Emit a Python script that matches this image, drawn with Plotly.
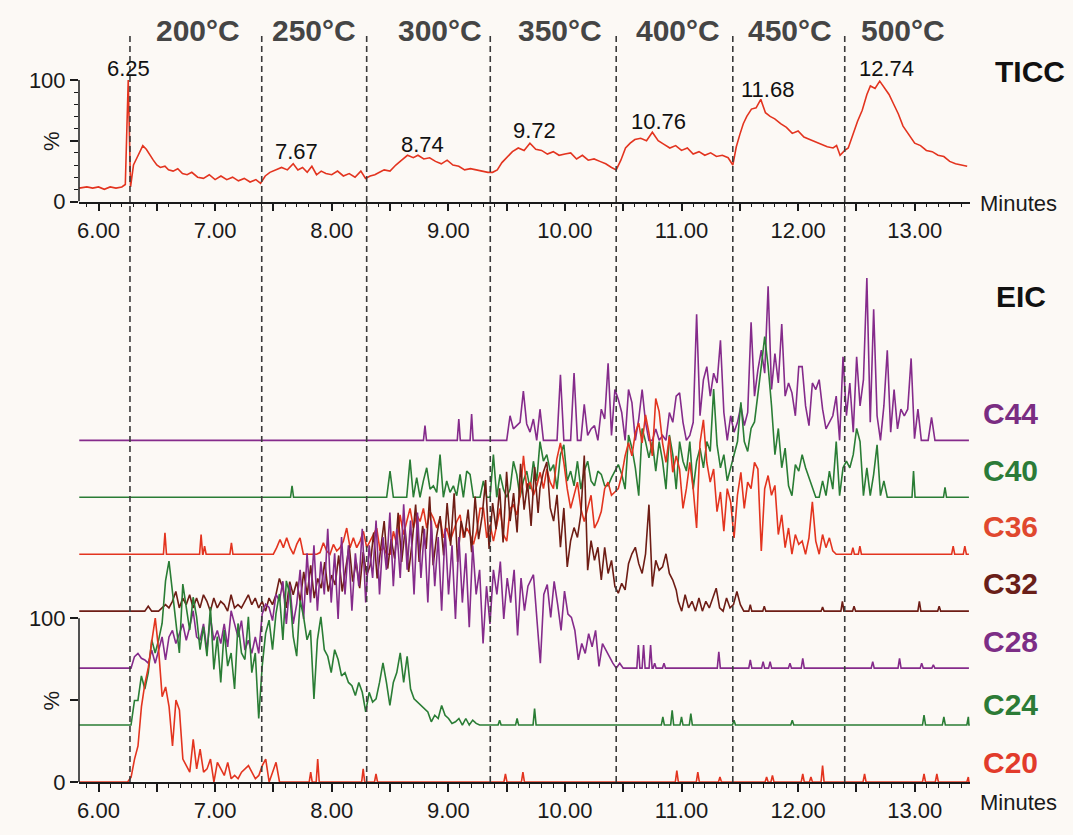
import plotly.graph_objects as go

# ---------------- data ----------------
X_RANGE = [5.8328, 13.4743]
T_START, T_END = 5.835, 13.465
SPIKE_HALF = 0.013

TEMP_LABELS = ["200°C", "250°C", "300°C", "350°C", "400°C", "450°C", "500°C"]
TEMP_LABEL_T = [6.853, 7.85, 8.93, 9.96, 10.97, 11.93, 12.90]
STEP_BOUNDARIES = [6.27, 7.40, 8.30, 9.36, 10.44, 11.44, 12.40]

TICC_T = [5.835, 5.90, 5.95, 6.00, 6.05, 6.10, 6.15, 6.20, 6.23, 6.255,
          6.275, 6.30, 6.33, 6.36, 6.38, 6.41, 6.44, 6.47, 6.50, 6.53,
          6.57, 6.60, 6.64, 6.68, 6.72, 6.76, 6.80, 6.85, 6.90, 6.95,
          7.00, 7.05, 7.10, 7.15, 7.20, 7.25, 7.30, 7.35, 7.39, 7.43,
          7.47, 7.52, 7.57, 7.62, 7.67, 7.71, 7.75, 7.79, 7.83, 7.87,
          7.91, 7.95, 8.00, 8.05, 8.10, 8.15, 8.20, 8.25, 8.29, 8.33,
          8.37, 8.41, 8.45, 8.50, 8.55, 8.60, 8.65, 8.70, 8.74, 8.79,
          8.84, 8.89, 8.94, 8.99, 9.04, 9.09, 9.14, 9.19, 9.24, 9.29,
          9.34, 9.38, 9.42, 9.46, 9.50, 9.55, 9.60, 9.65, 9.70, 9.75,
          9.80, 9.85, 9.90, 9.95, 10.00, 10.05, 10.10, 10.15, 10.20, 10.25,
          10.30, 10.35, 10.40, 10.44, 10.48, 10.52, 10.56, 10.60, 10.65, 10.70,
          10.75, 10.80, 10.85, 10.90, 10.95, 11.00, 11.05, 11.10, 11.15, 11.20,
          11.25, 11.30, 11.35, 11.40, 11.44, 11.47, 11.50, 11.53, 11.56, 11.60,
          11.64, 11.68, 11.72, 11.76, 11.80, 11.85, 11.90, 11.95, 12.00, 12.05,
          12.10, 12.15, 12.20, 12.25, 12.30, 12.33, 12.36, 12.40, 12.43, 12.47,
          12.51, 12.55, 12.59, 12.62, 12.66, 12.70, 12.74, 12.78, 12.82, 12.86,
          12.90, 12.95, 13.00, 13.05, 13.10, 13.15, 13.20, 13.25, 13.30, 13.35,
          13.40, 13.45]
TICC_V = [11, 12, 11, 12, 10, 12, 11, 12, 14, 100,
          12, 30, 36, 42, 46, 43, 38, 34, 30, 28,
          29, 26, 25, 27, 23, 22, 24, 20, 19, 22,
          18, 21, 18, 20, 17, 19, 16, 18, 15, 21,
          24, 26, 28, 26, 31, 26, 28, 24, 29, 22,
          25, 23, 22, 25, 21, 23, 20, 25, 19, 21,
          22, 24, 26, 25, 30, 34, 38, 36, 38, 35,
          36, 33, 31, 34, 30, 29, 26, 27, 26, 25,
          24, 24, 26, 32, 36, 41, 44, 42, 48, 43,
          42, 39, 41, 38, 39, 40, 35, 38, 34, 35,
          33, 31, 28, 26, 34, 44, 48, 51, 52, 50,
          57, 50, 47, 44, 46, 42, 44, 39, 41, 38,
          40, 37, 38, 36, 30, 45, 55, 64, 70, 76,
          77, 84, 73, 70, 68, 64, 61, 56, 58, 53,
          51, 49, 47, 45, 44, 46, 38, 42, 44, 55,
          66, 75, 88, 95, 93, 99, 94, 88, 80, 72,
          62, 55, 48, 46, 42, 41, 38, 37, 33, 31,
          30, 29]
TICC_PEAK_LABELS = ["6.25", "7.67", "8.74", "9.72", "10.76", "11.68", "12.74"]

EIC_NAMES = ["C20", "C24", "C28", "C32", "C36", "C40", "C44"]
EIC_OFFSET_STEP = 34.75

# C20
C20_A_START, C20_A_STEP = 6.25, 0.0296
C20_A = [0, 3, 14, 22, 46, 60, 70, 86, 100, 80, 52, 58, 46, 22, 50, 44, 14, 10, 6, 26,
         8, 20, 6, 8, 14, 0, 12, 8, 4, 12, 2, 4, 2, 6, 8, 10, 6, 2, 4, 10,
         14, 0, 6, 12, 0, 0]
C20_SPIKE_T = [7.82, 7.88, 8.27, 8.38, 9.49, 9.64, 10.96, 11.14, 11.33, 11.73, 11.78,
               12.04, 12.11, 12.21, 12.57, 13.08, 13.19, 13.46]
C20_SPIKE_V = [6, 14, 8, 5, 5, 6, 7, 6, 3, 3, 4, 5, 3, 10, 5, 5, 5, 3]

# C24
C24_A_START, C24_A_STEP = 6.279, 0.0296
C24_A = [0, 15, 15, 30, 22, 32, 52, 44, 52, 62,
         88, 100, 80, 64, 44, 86, 72, 58, 78, 66,
         46, 60, 42, 72, 34, 54, 26, 58, 36, 44,
         22, 62, 44, 40, 66, 32, 44, 4, 36, 56,
         64, 46, 68, 80, 52, 88, 80, 54, 42, 76,
         66, 52, 58, 16, 52, 66, 46, 42, 32, 46,
         40, 30, 32, 26, 24, 18, 26, 20, 8, 20,
         14, 16, 26, 38, 26, 12, 26, 32, 44, 26,
         42, 22, 16, 14, 12, 10, 8, 2, 6, 4,
         12, 6, 4, 1, 2, 4, 0, 4, 0, 3,
         1, 0]
C24_SPIKE_T = [9.44, 9.59, 9.74, 10.84, 10.92, 11.00, 11.08, 11.45, 11.95, 13.08, 13.25, 13.46]
C24_SPIKE_V = [3, 4, 10, 5, 9, 5, 7, 3, 3, 6, 5, 5]

# C28
C28_A_START, C28_A_STEP = 6.279, 0.0296
C28_A = [0, 7, 9, 6, 5, 3, 11, 3, 11, 19,
         5, 19, 23, 15, 21, 27, 17, 25, 35, 19,
         17, 27, 11, 31, 17, 23, 15, 27, 13, 35,
         27, 19, 29, 11, 17, 9, 19, 9, 33, 39,
         37, 29, 45, 41, 53, 27, 51, 27, 39,
         60, 30, 70, 40, 75, 35, 65, 45, 85, 40,
         70, 30, 80, 45, 75, 35, 70, 50, 85, 40,
         75, 55, 90, 45, 80, 60, 95, 50, 85, 55,
         100, 60, 90, 45, 95, 55, 85, 40, 90, 50,
         80, 35, 85, 45, 75, 30, 80, 40, 70, 25,
         75, 45, 60, 15, 50, 27, 60, 45, 65, 30,
         55, 40, 60, 20, 55, 35, 50]
C28_B_START, C28_B_STEP = 9.7303, 0.0296
C28_B = [57, 27, 3, 45, 51, 31, 53, 39, 23, 47,
         33, 31, 23, 5, 15, 9, 21, 13, 23, 1,
         15, 11, 7, 3, 0, 3, 0]
C28_SPIKE_T = [10.63, 10.675, 10.735, 10.77, 10.85, 11.32, 11.59, 11.70, 11.76, 11.93,
               12.04, 12.64, 12.87, 13.06, 13.16]
C28_SPIKE_V = [14, 14, 14, 3, 3, 10, 5, 4, 4, 3, 6, 4, 6, 3, 2]

# C32
C32_A_START, C32_A_STEP = 6.397, 0.0296
C32_A = [0, 3, 0, 0, 0, 2, 4, 2, 6, 12, 2, 8, 4, 10, 2, 8, 2, 10, 6, 0,
         8, 2, 6, 4, 0, 10, 2, 4, 2, 6, 10, 4, 8, 2, 6, 0, 8, 4, 10, 20,
         14, 2, 18, 10]
C32_B_START, C32_B_STEP = 7.70, 0.03
C32_B = [18, 6, 24, 10, 28, 8, 20, 14, 30, 12, 22,
         16, 34, 12, 26, 40, 18, 30, 14, 36, 22,
         28, 48, 20, 38, 55, 26, 44, 32, 60, 30,
         50, 24, 42, 65, 30, 52, 38, 70, 28, 46,
         58, 34, 66, 40, 72, 30, 55, 45, 62, 36,
         70, 44, 58, 80, 38, 66, 50, 75, 42, 85,
         55, 72, 48, 90, 62, 78, 52, 88, 60]
C32_C_START, C32_C_STEP = 9.7865, 0.0292
C32_C = [75, 85, 91, 63, 55, 71, 39, 63, 27, 43,
         51, 45, 59, 95, 25, 43, 31, 39, 19, 39,
         23, 31, 15, 11, 17, 13, 29, 35, 39, 29,
         23, 35, 65, 15, 31, 25, 27, 35, 23, 19,
         13]
C32_D_START, C32_D_STEP = 10.972, 0.0296
C32_D = [6, 0, 10, 2, 6, 0, 8, 0, 6, 2, 8, 14, 2, 0, 8, 2, 4, 12, 4, 0]
C32_SPIKE_T = [11.59, 11.71, 12.21, 12.38, 12.48, 13.04, 13.21]
C32_SPIKE_V = [4, 3, 2.5, 6, 3, 6, 3]

# C36
C36_A_START, C36_A_STEP = 7.4996, 0.0286
C36_A = [0, 4, 9, 4, 10, 4, 0, 6, 10, 0,
         0, 0, 0, 0, 1, 7, 2, 0, 6, 2,
         4, 8, 16, 4, 10, 4, 8, 14, 4, 8,
         12, 16, 2, 4, 0, 0, 14, 6, 24, 12,
         20, 28, 16, 24, 20, 28, 16, 26, 22, 16,
         22, 10, 16, 8, 14, 20, 24, 10, 16, 12,
         6, 14, 28, 28, 10, 18, 8, 18, 28, 12,
         8, 28, 30, 24, 36, 60, 40, 44, 36, 42,
         50, 40, 52, 44, 40, 58]
C36_B_START, C36_B_STEP = 9.9615, 0.0292
C36_B = [68, 56, 40, 28, 36, 44, 28, 20, 28, 36,
         16, 20, 26, 40, 44, 36, 38, 40, 48, 60,
         68, 60, 74, 80, 68, 85, 74, 60, 95, 87,
         68, 56, 72, 50, 60, 52, 28, 40, 56, 40,
         16, 68, 82, 56, 44, 52, 26, 38, 14, 40,
         32, 10, 36, 50, 28, 44, 40, 56, 52, 2,
         40, 48, 36, 42, 12, 24, 4, 16, 0, 12,
         6, 8, 0, 10, 32, 8, 0, 12, 4, 10,
         2, 0]
C36_SPIKE_T = [6.57, 6.88, 6.91, 7.14, 12.47, 12.53, 13.33, 13.43]
C36_SPIKE_V = [13, 12, 5, 7, 4, 5, 5, 5]

# C40
C40_A_START, C40_A_STEP = 8.4716, 0.0286
C40_A = [0, 16, 0, 0, 0, 0, 0, 23, 0, 12,
         0, 10, 18, 5, 7, 3, 26, 0, 10, 3,
         7, 1, 14, 0, 16, 14, 0, 0, 0, 10,
         0, 0, 26, 0, 14, 5, 0, 5, 22, 14,
         0, 10, 16, 5, 22, 10]
C40_B_START, C40_B_STEP = 9.7865, 0.0292
C40_B = [34, 22, 26, 16, 20, 5, 26, 32, 10, 16,
         7, 22, 5, 16, 22, 10, 7, 16, 14, 7,
         7, 12, 16, 20, 14, 5, 38, 30, 18, 1,
         42, 34, 24, 34, 16, 34, 22, 5, 38, 26,
         5, 34, 22, 16, 34, 5, 22, 30, 18, 34,
         28, 66, 32, 18, 26, 10, 18, 26, 34, 58,
         34, 28, 42, 46, 62, 80, 98, 80, 56, 26,
         42, 18, 30, 7, 1, 20, 16, 26, 18, 12,
         7, 0, 0, 10, 1, 16, 5, 34, 1, 18,
         22, 18, 26, 42, 34, 1, 18, 1, 14, 32,
         1, 10, 0]
C40_SPIKE_T = [7.66, 12.99, 13.26]
C40_SPIKE_V = [7, 16, 6]

# C44
C44_A_START, C44_A_STEP = 9.5009, 0.0286
C44_A = [0, 15, 7, 9, 11, 30, 10, 5, 13, 0]
C44_B_START, C44_B_STEP = 9.7865, 0.0292
C44_B = [19, 0, 0, 0, 0, 0, 40, 0, 0, 0,
         41, 0, 0, 22, 3, 7, 9, 0, 19, 13,
         47, 3, 31, 25, 17, 0, 31, 23, 0, 13,
         31, 11, 0, 0, 7, 0, 3, 0, 17, 11,
         27, 29, 11, 0, 3, 11, 77, 15, 37, 45,
         27, 41, 35, 61, 17, 0, 15, 5, 11, 21,
         9, 17, 72, 27, 43, 55, 41, 94, 31, 53,
         35, 71, 27, 35, 29, 15, 45, 45, 21, 9,
         35, 31, 37, 19, 7, 11, 15, 27, 0, 51,
         15, 35, 5, 51, 21, 37, 99, 11, 80, 15,
         0, 21, 55, 5, 31, 7, 19, 15, 19, 50,
         1, 19, 0, 0, 0, 14, 0]
C44_SPIKE_T = [8.80, 9.09, 9.20]
C44_SPIKE_V = [9, 13, 16]

EIC_LABEL_Y = [12, 47, 86, 121, 156, 190, 225]

assert len(TICC_T) == len(TICC_V)

# ---------------- styling ----------------
BG = "#fcf9f5"
RED = "#e3341f"
GREEN = "#2a7d35"
PURPLE = "#852b8b"
BROWN = "#6e1d15"
TRACE_COLORS = [RED, GREEN, PURPLE, BROWN, RED, GREEN, PURPLE]
LABEL_COLORS = ["#e23b2b", "#2c7b36", "#7d2e86", "#6a1f19", "#e0482e", "#2b7b38", "#7a2d82"]
FONT = "Liberation Sans, Arial, Helvetica, sans-serif"
INK = "#1a1a1a"

EIC_SEGMENTS = [
    [(C20_A_START, C20_A_STEP, C20_A)],
    [(C24_A_START, C24_A_STEP, C24_A)],
    [(C28_A_START, C28_A_STEP, C28_A), (C28_B_START, C28_B_STEP, C28_B)],
    [(C32_A_START, C32_A_STEP, C32_A), (C32_B_START, C32_B_STEP, C32_B),
     (C32_C_START, C32_C_STEP, C32_C), (C32_D_START, C32_D_STEP, C32_D)],
    [(C36_A_START, C36_A_STEP, C36_A), (C36_B_START, C36_B_STEP, C36_B)],
    [(C40_A_START, C40_A_STEP, C40_A), (C40_B_START, C40_B_STEP, C40_B)],
    [(C44_A_START, C44_A_STEP, C44_A), (C44_B_START, C44_B_STEP, C44_B)],
]
EIC_SPIKES = [
    (C20_SPIKE_T, C20_SPIKE_V), (C24_SPIKE_T, C24_SPIKE_V), (C28_SPIKE_T, C28_SPIKE_V),
    (C32_SPIKE_T, C32_SPIKE_V), (C36_SPIKE_T, C36_SPIKE_V), (C40_SPIKE_T, C40_SPIKE_V),
    (C44_SPIKE_T, C44_SPIKE_V),
]


def build(segments, spike_t, spike_v, offset):
    pts = [(T_START, 0.0), (T_END, 0.0)]
    for t0, dt, vals in segments:
        pts += [(t0 + i * dt, v) for i, v in enumerate(vals)]
    for t, v in zip(spike_t, spike_v):
        pts += [(t - SPIKE_HALF, 0.0), (t, v), (t + SPIKE_HALF, 0.0)]
    pts.sort(key=lambda p: p[0])
    return [p[0] for p in pts], [p[1] + offset for p in pts]


fig = go.Figure()

# TICC
fig.add_trace(go.Scatter(x=TICC_T, y=TICC_V, mode="lines", xaxis="x2", yaxis="y2",
                         line=dict(color=RED, width=1.6), hoverinfo="skip", showlegend=False))

# EIC traces, drawn top first so lower ones lie above
for idx in reversed(range(len(EIC_NAMES))):
    xs, ys = build(EIC_SEGMENTS[idx], EIC_SPIKES[idx][0], EIC_SPIKES[idx][1], idx * EIC_OFFSET_STEP)
    fig.add_trace(go.Scatter(x=xs, y=ys, mode="lines", xaxis="x", yaxis="y",
                             line=dict(color=TRACE_COLORS[idx], width=1.6),
                             hoverinfo="skip", showlegend=False))

major_x = [6.0 + 0.5 * i for i in range(15)]
major_x_text = ["%.2f" % v if abs(v - round(v)) < 1e-9 else "" for v in major_x]
tick_font = dict(family=FONT, size=22, color=INK)

xcommon = dict(range=X_RANGE, showline=True, linecolor=INK, linewidth=1.5,
               ticks="outside", ticklen=8, tickwidth=1.5, tickcolor=INK,
               tickmode="array", tickvals=major_x, ticktext=major_x_text, tickfont=tick_font,
               showgrid=False, zeroline=False,
               minor=dict(ticks="outside", ticklen=4, tickwidth=1.3, tickcolor=INK,
                          tickmode="linear", tick0=6.0, dtick=0.1, showgrid=False))

TOP_DOMAIN = [0.8153, 0.9895]
BOT_DOMAIN = [0.0, 0.71806]

fig.update_layout(
    width=1073, height=835,
    margin=dict(l=79, r=103, t=70, b=45),
    paper_bgcolor=BG, plot_bgcolor=BG,
    hovermode=False,
    showlegend=False,
    font=dict(family=FONT, color=INK),
    xaxis=dict(xcommon, anchor="y"),
    xaxis2=dict(xcommon, anchor="y2"),
    yaxis=dict(domain=BOT_DOMAIN, range=[0, 312], anchor="x",
               tickmode="array", tickvals=[0, 50, 100], ticktext=["0", "", "100"],
               ticks="outside", ticklen=8, tickwidth=1.5, tickcolor=INK, tickfont=tick_font,
               showline=False, showgrid=False, zeroline=False),
    yaxis3=dict(domain=BOT_DOMAIN, range=[0, 312], anchor="x", overlaying="y", side="left",
                tickmode="array", tickvals=[10, 20, 30, 40, 60, 70, 80, 90],
                ticks="outside", ticklen=4, tickwidth=1.3, tickcolor=INK,
                showticklabels=False, showline=False, showgrid=False, zeroline=False),
    yaxis2=dict(domain=TOP_DOMAIN, range=[0, 102], anchor="x2",
                tickmode="array", tickvals=[0, 50, 100], ticktext=["0", "", "100"],
                ticks="outside", ticklen=8, tickwidth=1.5, tickcolor=INK, tickfont=tick_font,
                showline=False, showgrid=False, zeroline=False,
                minor=dict(ticks="outside", ticklen=4, tickwidth=1.3, tickcolor=INK,
                           tickmode="linear", tick0=0, dtick=10, showgrid=False)),
)

shapes = [
    dict(type="line", xref="paper", yref="y2", x0=0, x1=0, y0=0, y1=100,
         line=dict(color=INK, width=1.5)),
    dict(type="line", xref="paper", yref="y", x0=0, x1=0, y0=0, y1=100,
         line=dict(color=INK, width=1.5)),
]
for tb in STEP_BOUNDARIES:
    shapes.append(dict(type="line", xref="x", yref="paper", x0=tb, x1=tb, y0=0, y1=1.0528,
                       line=dict(color="#3a3a3a", width=1.6, dash="6px,4px"), layer="above"))
fig.update_layout(shapes=shapes)

ann = []
for lab, t in zip(TEMP_LABELS, TEMP_LABEL_T):
    ann.append(dict(x=t, y=1.0556, xref="x", yref="paper", text="<b>%s</b>" % lab, showarrow=False,
                    font=dict(family=FONT, size=30, color="#454545"),
                    xanchor="center", yanchor="middle"))

# peak label anchor positions (x in minutes, y as fraction of the plotting area height)
peak_x = [6.253, 7.70, 8.778, 9.74, 10.80, 11.74, 12.76]
peak_y = [1.0028, 0.8861, 0.8958, 0.9153, 0.9278, 0.9722, 1.0028]
for lab, px, py in zip(TICC_PEAK_LABELS, peak_x, peak_y):
    ann.append(dict(x=px, y=py, xref="x2", yref="paper", text=lab, showarrow=False,
                    font=dict(family=FONT, size=22, color="#111111"),
                    xanchor="center", yanchor="middle"))

for i, name in enumerate(EIC_NAMES):
    ann.append(dict(x=1.0449, y=EIC_LABEL_Y[i], xref="paper", yref="y", text="<b>%s</b>" % name,
                    showarrow=False, font=dict(family=FONT, size=30, color=LABEL_COLORS[i]),
                    xanchor="center", yanchor="middle"))

ann += [
    dict(x=1.0673, y=0.9972, xref="paper", yref="paper", text="<b>TICC</b>", showarrow=False,
         font=dict(family=FONT, size=30, color="#111111"), xanchor="center", yanchor="middle"),
    dict(x=1.0572, y=0.682, xref="paper", yref="paper", text="<b>EIC</b>", showarrow=False,
         font=dict(family=FONT, size=30, color="#111111"), xanchor="center", yanchor="middle"),
    dict(x=1.009, y=0, xref="paper", yref="y2", text="Minutes", showarrow=False,
         font=dict(family=FONT, size=22, color=INK), xanchor="left", yanchor="middle", yshift=-2),
    dict(x=1.009, y=0, xref="paper", yref="y", text="Minutes", showarrow=False,
         font=dict(family=FONT, size=22, color=INK), xanchor="left", yanchor="middle", yshift=-20),
    dict(x=-0.031, y=50, xref="paper", yref="y2", text="%", showarrow=False, textangle=-90,
         font=dict(family=FONT, size=22, color=INK), xanchor="center", yanchor="middle"),
    dict(x=-0.031, y=50, xref="paper", yref="y", text="%", showarrow=False, textangle=-90,
         font=dict(family=FONT, size=22, color=INK), xanchor="center", yanchor="middle"),
]
fig.update_layout(annotations=ann)

fig.write_html("out.html", config={"displayModeBar": False},
               post_script="document.body.style.margin='0';document.body.style.padding='0';")
